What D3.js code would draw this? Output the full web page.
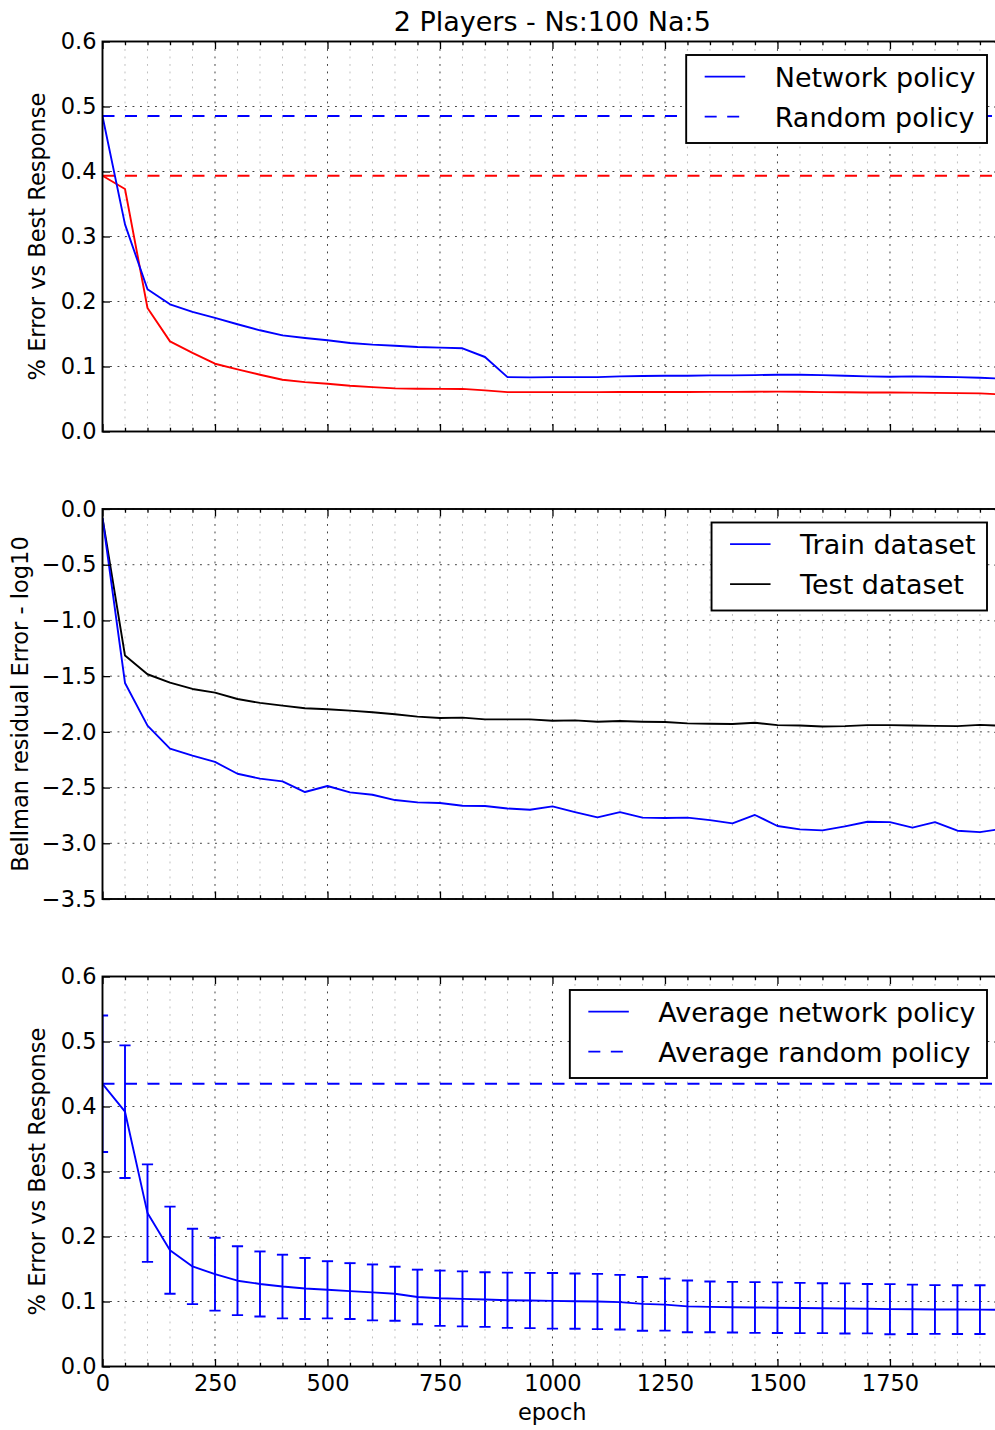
<!DOCTYPE html>
<html>
<head>
<meta charset="utf-8">
<script src="https://cdn.jsdelivr.net/npm/d3@7"></script>
<style>
  html, body { margin: 0; padding: 0; background: #fff; }
  svg { display: block; font-family: "DejaVu Sans", sans-serif; }
</style>
</head>
<body>
<svg id="chart" width="995" height="1430"></svg>
<script>
// ---------------- data ----------------
const epochs = [0, 50, 100, 150, 200, 250, 300, 350, 400, 450, 500, 550, 600, 650, 700, 750, 800, 850, 900, 950,
  1000, 1050, 1100, 1150, 1200, 1250, 1300, 1350, 1400, 1450, 1500, 1550, 1600, 1650, 1700, 1750, 1800, 1850, 1900, 1950, 1999];

// Panel 1: % error vs best response (player 1 = blue, player 2 = red)
const player1Network = [0.485, 0.3186, 0.2189, 0.1957, 0.184, 0.1747, 0.165, 0.1557, 0.1478, 0.1438, 0.1403, 0.1361, 0.1336,
  0.132, 0.130, 0.129, 0.128, 0.1146, 0.0837, 0.0832, 0.0837, 0.0837, 0.0837, 0.0848, 0.0853, 0.0858, 0.0858, 0.0863, 0.0863,
  0.0868, 0.0874, 0.0874, 0.0868, 0.0858, 0.0848, 0.0842, 0.0848, 0.0842, 0.0837, 0.0827, 0.0812];
const player2Network = [0.3935, 0.373, 0.190, 0.1387, 0.121, 0.1043, 0.0955, 0.0873, 0.0796, 0.076, 0.0735, 0.0704, 0.0683,
  0.0663, 0.0658, 0.0655, 0.0655, 0.0632, 0.0606, 0.0606, 0.0606, 0.0606, 0.0606, 0.0608, 0.0608, 0.0608, 0.0608, 0.061, 0.061,
  0.0612, 0.0614, 0.0612, 0.0606, 0.0603, 0.0601, 0.060, 0.0598, 0.0595, 0.059, 0.0586, 0.057];
const player1Random = 0.4855;
const player2Random = 0.3935;

// Panel 2: Bellman residual error (log10)
const trainError = [-0.08, -1.561, -1.944, -2.15, -2.214, -2.27, -2.376, -2.42, -2.444, -2.54, -2.486, -2.543, -2.564, -2.612,
  -2.633, -2.639, -2.663, -2.666, -2.688, -2.699, -2.669, -2.72, -2.767, -2.72, -2.77, -2.773, -2.77, -2.792, -2.821, -2.746,
  -2.845, -2.875, -2.884, -2.848, -2.807, -2.81, -2.86, -2.81, -2.887, -2.9, -2.87];
const testError = [-0.08, -1.315, -1.483, -1.558, -1.615, -1.648, -1.705, -1.74, -1.765, -1.788, -1.797, -1.809, -1.824, -1.842,
  -1.863, -1.875, -1.872, -1.888, -1.888, -1.888, -1.9, -1.897, -1.909, -1.903, -1.909, -1.912, -1.924, -1.927, -1.93, -1.918,
  -1.94, -1.943, -1.952, -1.949, -1.94, -1.94, -1.943, -1.946, -1.949, -1.937, -1.945];

// Panel 3: average network policy with error bars
const avgNetwork = [0.435, 0.392, 0.236, 0.179, 0.154, 0.142, 0.132, 0.127, 0.123, 0.120, 0.118, 0.116, 0.114, 0.112, 0.107,
  0.105, 0.104, 0.103, 0.102, 0.1015, 0.101, 0.1005, 0.100, 0.099, 0.0963, 0.0952, 0.0925, 0.0918, 0.0912, 0.0908, 0.0905,
  0.0900, 0.0897, 0.0893, 0.0889, 0.0882, 0.0880, 0.0877, 0.0876, 0.0875, 0.0873];
const avgNetworkErr = [0.105, 0.102, 0.075, 0.067, 0.058, 0.056, 0.053, 0.050, 0.049, 0.047, 0.044, 0.043, 0.043, 0.0415, 0.042,
  0.0425, 0.0423, 0.042, 0.0425, 0.0425, 0.0428, 0.0425, 0.0425, 0.042, 0.0413, 0.040, 0.0398, 0.039, 0.039, 0.039, 0.039,
  0.0387, 0.0384, 0.0386, 0.038, 0.0385, 0.038, 0.0375, 0.0375, 0.0375, 0.0375];
const avgRandom = 0.435;

// ticks
const xMajorTicks = [0, 250, 500, 750, 1000, 1250, 1500, 1750];
const xMinorTicks = [50, 100, 150, 200, 300, 350, 400, 450, 550, 600, 650, 700, 800, 850, 900, 950, 1050, 1100, 1150, 1200,
  1300, 1350, 1400, 1450, 1550, 1600, 1650, 1700, 1800, 1850, 1900, 1950];
const errTicks = [0, 0.1, 0.2, 0.3, 0.4, 0.5, 0.6];
const bellmanTicks = [0, -0.5, -1.0, -1.5, -2.0, -2.5, -3.0, -3.5];

const titleText = "2 Players - Ns:100 Na:5";

// ---------------- layout ----------------
const svg = d3.select("#chart");
const X0 = 102.5, X1 = 1002;
const PH = 390;
const tops = [41.5, 509, 976.5];
const x = d3.scaleLinear().domain([0, 1999]).range([X0, X1]);

const BLUE = "#0000ff", RED = "#ff0000", BLACK = "#000000";
const LW = 1.9;
const DASH = "12,10.5";
const DOT = "1.9,5.6";

function panel(idx, yDomain, yTicks, opts) {
  const top = tops[idx], bottom = top + PH;
  const y = d3.scaleLinear().domain(yDomain).range([bottom, top]);
  const g = svg.append("g");
  const clipId = "clip" + idx;
  svg.append("clipPath").attr("id", clipId).append("rect")
    .attr("x", X0).attr("y", top).attr("width", X1 - X0).attr("height", PH);

  // grid
  const grid = g.append("g");
  grid.selectAll(".gxm").data(xMinorTicks).join("line")
    .attr("x1", d => x(d)).attr("x2", d => x(d)).attr("y1", top).attr("y2", bottom)
    .attr("stroke", "#bdbdbd").attr("stroke-width", 0.95).attr("stroke-dasharray", DOT);
  grid.selectAll(".gxM").data(xMajorTicks).join("line")
    .attr("x1", d => x(d)).attr("x2", d => x(d)).attr("y1", top).attr("y2", bottom)
    .attr("stroke", "#3a3a3a").attr("stroke-width", 0.95).attr("stroke-dasharray", DOT);
  grid.selectAll(".gy").data(yTicks).join("line")
    .attr("x1", X0).attr("x2", X1).attr("y1", d => y(d)).attr("y2", d => y(d))
    .attr("stroke", "#3a3a3a").attr("stroke-width", 0.95).attr("stroke-dasharray", DOT);

  const data = g.append("g").attr("clip-path", `url(#${clipId})`);

  // axes (inward ticks)
  const tickFont = g => g.selectAll("text").attr("font-size", "22.5px").attr("fill", "#000")
    .attr("font-family", "DejaVu Sans");
  const styleAx = sel => { sel.select(".domain").remove(); sel.selectAll("line").attr("stroke", "#000").attr("stroke-width", 1.3); };
  const fmtY = d3.format(".1f");

  const axG = g.append("g");
  axG.append("g").attr("transform", `translate(0,${bottom})`)
    .call(d3.axisBottom(x).tickValues(xMajorTicks).tickSize(-7.5).tickPadding(9)
      .tickFormat(opts.xLabels ? d3.format("d") : () => ""))
    .call(styleAx).call(tickFont);
  axG.append("g").attr("transform", `translate(0,${bottom})`)
    .call(d3.axisBottom(x).tickValues(xMinorTicks).tickSize(-3.75).tickFormat(() => ""))
    .call(styleAx);
  axG.append("g").attr("transform", `translate(0,${top})`)
    .call(d3.axisTop(x).tickValues(xMajorTicks).tickSize(-7.5).tickFormat(() => ""))
    .call(styleAx);
  axG.append("g").attr("transform", `translate(0,${top})`)
    .call(d3.axisTop(x).tickValues(xMinorTicks).tickSize(-3.75).tickFormat(() => ""))
    .call(styleAx);
  axG.append("g").attr("transform", `translate(${X0},0)`)
    .call(d3.axisLeft(y).tickValues(yTicks).tickSize(-7.5).tickPadding(6).tickFormat(fmtY))
    .call(styleAx).call(tickFont);
  axG.append("g").attr("transform", `translate(${X1},0)`)
    .call(d3.axisRight(y).tickValues(yTicks).tickSize(-7.5).tickFormat(() => ""))
    .call(styleAx);

  // y label
  g.append("text")
    .attr("transform", `translate(${opts.ylabX},${(top + bottom) / 2}) rotate(-90)`)
    .attr("text-anchor", "middle").attr("font-size", "22.5px").attr("fill", "#000")
    .text(opts.ylabel);

  return { g, data, y, top, bottom, axG };
}

function drawSpine(p) {
  p.g.append("rect").attr("x", X0).attr("y", p.top).attr("width", X1 - X0).attr("height", PH)
    .attr("fill", "none").attr("stroke", "#000").attr("stroke-width", 1.9);
}

function seriesLine(p, values, color, dash) {
  const line = d3.line().x((d, i) => x(epochs[i])).y(d => p.y(d));
  p.data.append("path").datum(values).attr("d", line)
    .attr("fill", "none").attr("stroke", color).attr("stroke-width", LW)
    .attr("stroke-linejoin", "round")
    .attr("stroke-dasharray", dash || null);
}

function constLine(p, value, color) {
  p.data.append("line")
    .attr("x1", x(epochs[0])).attr("x2", x(epochs[epochs.length - 1]))
    .attr("y1", p.y(value)).attr("y2", p.y(value))
    .attr("stroke", color).attr("stroke-width", LW).attr("stroke-dasharray", DASH);
}

function legend(p, items) {
  const right = 987;
  const top = p.top + 13.5;
  const lg = p.g.append("g");
  const box = lg.append("rect");
  const texts = items.map((it, i) => lg.append("text")
    .attr("y", top + 21.6 + i * 40 + 10)
    .attr("font-size", "27px").attr("fill", "#000").text(it.label));
  const maxW = d3.max(texts, t => t.node().getComputedTextLength());
  const left = right - (88.5 + maxW + 11.5);
  texts.forEach(t => t.attr("x", left + 88.5));
  items.forEach((it, i) => {
    lg.append("line")
      .attr("x1", left + 18.5).attr("x2", left + 59)
      .attr("y1", top + 21.6 + i * 40).attr("y2", top + 21.6 + i * 40)
      .attr("stroke", it.color).attr("stroke-width", LW)
      .attr("stroke-dasharray", it.dash ? DASH : null);
  });
  box.attr("x", left).attr("y", top).attr("width", right - left).attr("height", 88)
    .attr("fill", "#fff").attr("stroke", "#000").attr("stroke-width", 1.9);
}

// ---------------- panel 1 ----------------
const p1 = panel(0, [0, 0.6], errTicks, { ylabel: "% Error vs Best Response", ylabX: 45, xLabels: false });
constLine(p1, player1Random, BLUE);
constLine(p1, player2Random, RED);
seriesLine(p1, player2Network, RED);
seriesLine(p1, player1Network, BLUE);
drawSpine(p1);
legend(p1, [
  { label: "Network policy", color: BLUE, dash: false },
  { label: "Random policy", color: BLUE, dash: true }
]);

svg.append("text").attr("x", (X0 + X1) / 2).attr("y", 31)
  .attr("text-anchor", "middle").attr("font-size", "27px").attr("fill", "#000")
  .text(titleText);

// ---------------- panel 2 ----------------
const p2 = panel(1, [-3.5, 0], bellmanTicks, { ylabel: "Bellman residual Error - log10", ylabX: 28, xLabels: false });
seriesLine(p2, testError, BLACK);
seriesLine(p2, trainError, BLUE);
drawSpine(p2);
legend(p2, [
  { label: "Train dataset", color: BLUE, dash: false },
  { label: "Test dataset", color: BLACK, dash: false }
]);

// ---------------- panel 3 ----------------
const p3 = panel(2, [0, 0.6], errTicks, { ylabel: "% Error vs Best Response", ylabX: 45, xLabels: true });
constLine(p3, avgRandom, BLUE);
seriesLine(p3, avgNetwork, BLUE);
const bars = p3.data.append("g");
const CAP = 5.6;
epochs.forEach((e, i) => {
  const cx = x(e), yt = p3.y(avgNetwork[i] + avgNetworkErr[i]), yb = p3.y(avgNetwork[i] - avgNetworkErr[i]);
  bars.append("line").attr("x1", cx).attr("x2", cx).attr("y1", yt).attr("y2", yb)
    .attr("stroke", BLUE).attr("stroke-width", LW);
  bars.append("line").attr("x1", cx - CAP).attr("x2", cx + CAP).attr("y1", yt).attr("y2", yt)
    .attr("stroke", BLUE).attr("stroke-width", LW);
  bars.append("line").attr("x1", cx - CAP).attr("x2", cx + CAP).attr("y1", yb).attr("y2", yb)
    .attr("stroke", BLUE).attr("stroke-width", LW);
});
drawSpine(p3);
legend(p3, [
  { label: "Average network policy", color: BLUE, dash: false },
  { label: "Average random policy", color: BLUE, dash: true }
]);

svg.append("text").attr("x", (X0 + X1) / 2).attr("y", 1420)
  .attr("text-anchor", "middle").attr("font-size", "22.5px").attr("fill", "#000")
  .text("epoch");
</script>
</body>
</html>
